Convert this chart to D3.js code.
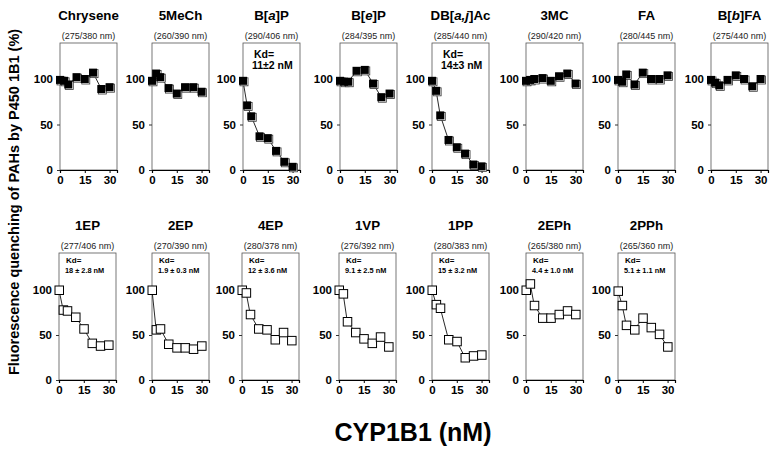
<!DOCTYPE html>
<html><head><meta charset="utf-8">
<script src="https://cdn.jsdelivr.net/npm/d3@7"></script>
<style>body{margin:0;background:#fff}svg{display:block}text{font-family:Arial,"Liberation Sans",sans-serif}</style>
</head><body><svg id="c" width="776" height="450"></svg>
<script>
const concentrations = [0, 2.5, 5, 10, 15, 20, 25, 30];
const xTicks = [0, 15, 30];
const yTicks = [0, 50, 100];

const topNames = ["Chrysene", "5MeCh", "B[a]P", "B[e]P", "DB[a,j]Ac", "3MC", "FA", "B[b]FA"];
const topWavelengths = ["(275/380 nm)", "(260/390 nm)", "(290/406 nm)", "(284/395 nm)", "(285/440 nm)", "(290/420 nm)", "(280/445 nm)", "(275/440 nm)"];
const topKd = [null, null, "11±2 nM", null, "14±3 nM", null, null, null];
const chrysene = [99, 98, 94, 102, 100, 107, 89, 91];
const meCh5 = [98, 106, 102, 90, 84, 91, 91, 86];
const bap = [98, 71, 59, 37, 35, 21, 9, 3.5];
const bep = [98, 97, 97, 109, 110, 95, 80, 84];
const dbajac = [98, 87, 60, 33, 25, 18, 6, 4];
const mc3 = [98, 99, 100, 101, 98, 103, 106, 95];
const fa = [99, 97, 105, 94, 107, 100, 100, 104];
const bbfa = [99, 96, 93, 99, 104, 100, 92, 100];
const topValues = [chrysene, meCh5, bap, bep, dbajac, mc3, fa, bbfa];

const bottomNames = ["1EP", "2EP", "4EP", "1VP", "1PP", "2EPh", "2PPh"];
const bottomWavelengths = ["(277/406 nm)", "(270/390 nm)", "(280/378 nm)", "(276/392 nm)", "(280/383 nm)", "(265/380 nm)", "(265/360 nm)"];
const bottomKd = ["18 ± 2.8 nM", "1.9 ± 0.3 nM", "12 ± 3.6 nM", "9.1 ± 2.5 nM", "15 ± 3.2 nM", "4.4 ± 1.0 nM", "5.1 ± 1.1 nM"];
const ep1 = [100, 78, 77, 70, 57, 41, 38, 39];
const ep2 = [100, 56, 57, 40, 36, 36, 34.5, 38];
const ep4 = [100, 97, 73, 57, 56, 45, 53, 44];
const vp1 = [100, 96, 65, 53, 46, 41, 48, 37];
const pp1 = [100, 84, 80, 45, 43, 25, 27, 28];
const eph2 = [100, 107, 83, 69, 69, 73, 77, 73];
const pph2 = [99, 83, 61, 56, 69, 58.5, 51, 37];
const bottomValues = [ep1, ep2, ep4, vp1, pp1, eph2, pph2];

const svg = d3.select("#c");
const topLefts = [60, 152, 243, 340, 432, 526, 618, 711];
const botLefts = [59, 152, 242, 339, 432, 526, 618];
const panelW = 57;

function fmtName(g, name, x, y) {
  const t = g.append("text").attr("x", x).attr("y", y).attr("text-anchor", "middle")
    .attr("font-size", 13.3).attr("font-weight", "bold");
  const m = name.match(/^(.*?)\[(.*?)\](.*)$/);
  if (m) {
    t.append("tspan").text(m[1] + "[");
    t.append("tspan").attr("font-style", "italic").text(m[2]);
    t.append("tspan").text("]" + m[3]);
  } else t.text(name);
}

function panel(left, top0, yZero, y100, name, wl, kd, vals, filled, kdSize) {
  const g = svg.append("g");
  const x = d3.scaleLinear().domain([0, 34.5]).range([left, left + panelW]);
  const y = d3.scaleLinear().domain([0, 100]).range([yZero, y100]);
  g.append("rect").attr("x", left).attr("y", top0).attr("width", panelW).attr("height", yZero - top0)
    .attr("fill", "none").attr("stroke", "#555").attr("stroke-width", 0.8);
  const ya = g.append("g").attr("transform", `translate(${left},0)`)
    .call(d3.axisLeft(y).tickValues(yTicks).tickSize(3).tickPadding(4));
  ya.select(".domain").remove();
  const xa = g.append("g").attr("transform", `translate(0,${yZero})`)
    .call(d3.axisBottom(x).tickValues(xTicks).tickSize(3).tickPadding(3));
  xa.select(".domain").attr("stroke", "#000").attr("stroke-width", 1.2);
  [ya, xa].forEach(a => a.selectAll("text").attr("font-size", 11.5).attr("font-weight", "bold")
    .attr("font-family", "Arial, 'Liberation Sans', sans-serif").attr("fill", "#000"));
  xa.selectAll(".tick line").attr("stroke", "#000");
  ya.selectAll(".tick line").attr("stroke", "#333");
  fmtName(g, name, left + panelW / 2, top0 - 23);
  g.append("text").attr("x", left + panelW / 2).attr("y", top0 - 4).attr("text-anchor", "middle")
    .attr("font-size", 9).attr("fill", "#222").text(wl);
  const pts = concentrations.map((c, i) => [c, vals[i]]);
  g.append("path").datum(pts)
    .attr("d", d3.line().x(d => x(d[0])).y(d => y(d[1])))
    .attr("fill", "none").attr("stroke", "#111").attr("stroke-width", 0.9);
  const s = 8;
  if (filled) {
    g.selectAll("rect.o").data(pts).join("rect")
      .attr("x", d => x(d[0]) - s / 2 + 1).attr("y", d => y(d[1]) - s / 2 + 1)
      .attr("width", s).attr("height", s).attr("fill", "#fff").attr("stroke", "#333").attr("stroke-width", 0.8);
    g.selectAll("rect.f").data(pts).join("rect")
      .attr("x", d => x(d[0]) - s / 2).attr("y", d => y(d[1]) - s / 2)
      .attr("width", s).attr("height", s).attr("fill", "#000");
  } else {
    g.selectAll("rect.o").data(pts).join("rect")
      .attr("x", d => x(d[0]) - s / 2).attr("y", d => y(d[1]) - s / 2)
      .attr("width", s + 0.5).attr("height", s + 0.5).attr("fill", "#fff").attr("stroke", "#000").attr("stroke-width", 1);
  }
  if (kd) {
    g.append("text").attr("x", left + (filled ? 11 : 7)).attr("y", top0 + (filled ? 15 : 10))
      .attr("font-size", kdSize).attr("font-weight", "bold").text("Kd=");
    g.append("text").attr("x", left + (filled ? 9 : 6)).attr("y", top0 + (filled ? 26 : 20))
      .attr("font-size", kdSize * (filled ? 1 : 0.92)).attr("font-weight", "bold").text(kd);
  }
}

topNames.forEach((n, i) => panel(topLefts[i], 43, 170, 79, n, topWavelengths[i], topKd[i], topValues[i], true, 10.5));
bottomNames.forEach((n, i) => panel(botLefts[i], 253, 380, 290, n, bottomWavelengths[i], bottomKd[i], bottomValues[i], false, 8));

svg.append("text").attr("transform", "translate(19,202) rotate(-90)").attr("text-anchor", "middle")
  .attr("font-size", 14.5).attr("font-weight", "bold").text("Fluorescence quenching of PAHs by P450 1B1 (%)");
svg.append("text").attr("x", 413).attr("y", 441).attr("text-anchor", "middle")
  .attr("font-size", 25).attr("font-weight", "bold").text("CYP1B1 (nM)");
</script></body></html>
